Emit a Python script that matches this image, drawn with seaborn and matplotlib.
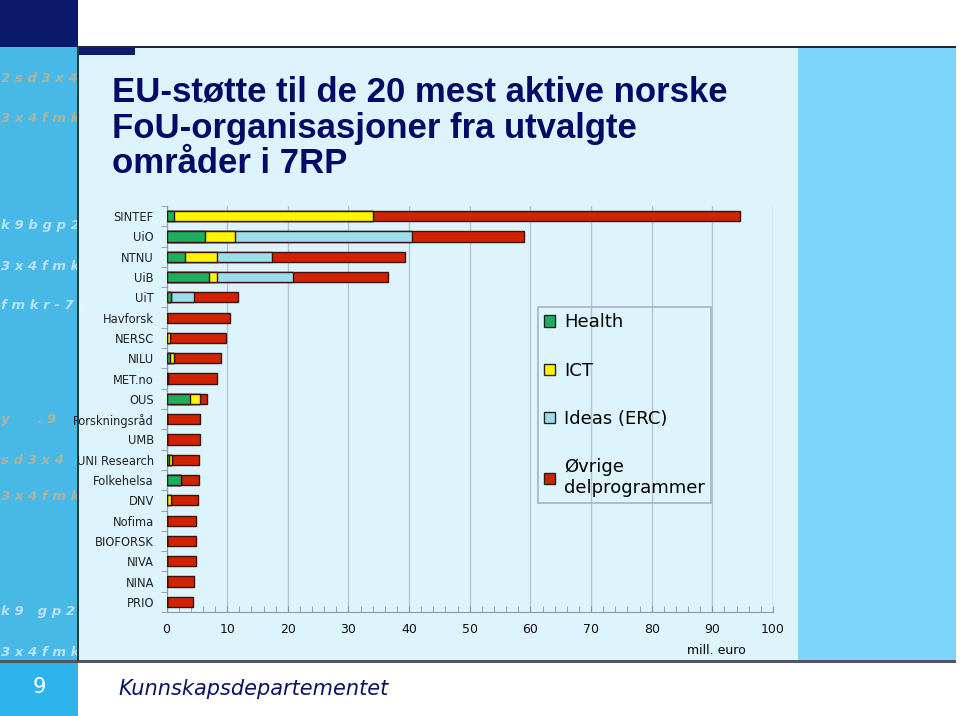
import numpy as np
import pandas as pd
import seaborn as sns
import matplotlib
matplotlib.use('Agg')
import matplotlib.pyplot as plt
from matplotlib.patches import Rectangle, Patch
from matplotlib.ticker import MultipleLocator, FixedLocator

# data (mill. euro)
orgs = ['SINTEF', 'UiO', 'NTNU', 'UiB', 'UiT', 'Havforsk', 'NERSC', 'NILU',
        'MET.no', 'OUS', 'Forskningsråd', 'UMB', 'UNI Research', 'Folkehelsa',
        'DNV', 'Nofima', 'BIOFORSK', 'NIVA', 'NINA', 'PRIO']
health = [1.3, 6.4, 3.0, 7.0, 0.7, 0, 0, 0.5, 0, 3.9,
          0, 0, 0.35, 2.4, 0, 0, 0, 0, 0, 0]
ict = [32.7, 4.9, 5.4, 1.4, 0, 0, 0.6, 0.7, 0.3, 1.7,
       0, 0, 0.55, 0, 0.8, 0, 0, 0, 0, 0]
ideas = [0, 29.1, 9.0, 12.4, 3.9, 0, 0, 0, 0, 0,
         0, 0, 0, 0, 0, 0, 0, 0, 0, 0]
ovrige = [60.5, 18.6, 21.9, 15.8, 7.2, 10.4, 9.2, 7.8, 8.1, 1.0,
          5.6, 5.6, 4.5, 3.0, 4.4, 4.9, 4.8, 4.8, 4.5, 4.3]

series = ['Health', 'ICT', 'Ideas (ERC)', 'Øvrige\ndelprogrammer']
colors = ['#1DAF5F', '#FFF500', '#9CDDEB', '#D02200']

W, H = 960, 716
fig = plt.figure(figsize=(W / 100, H / 100), dpi=100, facecolor='white')


def box(x0, y0, x1, y1, color, z=0):
    # pixel coords, origin top-left
    fig.add_artist(Rectangle((x0 / W, 1 - y1 / H), (x1 - x0) / W, (y1 - y0) / H,
                             transform=fig.transFigure, facecolor=color,
                             edgecolor='none', zorder=z))


# slide background
box(78, 47, 798, 661, '#DDF4FD')
box(798, 47, 956, 661, '#7DD6FA')
box(0, 47, 78, 661, '#48B8E6')
box(0, 0, 78, 47, '#0C1A6B')
box(78, 47, 135, 55, '#0C1A6B')
box(78, 46, 956, 48, '#1A2A3A')
box(0, 660, 956, 663, '#505560')
box(0, 663, 78, 716, '#2DB4EC')

# decorative letters in the left strip
deco = [(78, '2 s d 3 x 4'), (118, '3 x 4 f m k'), (226, 'k 9 b g p 2'),
        (266, '3 x 4 f m k'), (306, 'f m k r - 7 y'), (420, 'y      . 9'),
        (460, 's d 3 x 4'), (497, '3 x 4 f m k'), (612, 'k 9   g p 2'),
        (652, '3 x 4 f m k')]
for yy, s in deco:
    c = '#D8B27C' if yy in (78, 118, 420, 460, 497) else '#E8F4FA'
    fig.text(1 / W, 1 - yy / H, s, fontsize=9.5, fontweight='bold', style='italic',
             color=c, alpha=0.7, va='center', ha='left', zorder=1)
box(77, 47, 79, 661, '#2A3A4A', z=2)

# stacked totals, drawn back to front
df = pd.DataFrame({'org': orgs, 'Health': health, 'ICT': ict,
                   'Ideas': ideas, 'Ovrige': ovrige})
df['c1'] = df['Health']
df['c2'] = df['c1'] + df['ICT']
df['c3'] = df['c2'] + df['Ideas']
df['c4'] = df['c3'] + df['Ovrige']

ax = fig.add_axes([166.5 / W, 104 / H, 606.5 / W, 406 / H])
ax.set_facecolor('none')
ax.set_zorder(2)
for col, c in zip(['c4', 'c3', 'c2', 'c1'], colors[::-1]):
    sns.barplot(data=df, x=col, y='org', color=c, saturation=1, width=0.5,
                edgecolor='#3A1410', linewidth=1, errorbar=None, ax=ax, zorder=3)

ax.set_xlim(0, 100)
ax.set_ylim(len(orgs) - 0.5, -0.5)
ax.xaxis.set_major_locator(MultipleLocator(10))
ax.xaxis.set_minor_locator(MultipleLocator(2))
ax.grid(axis='x', which='major', color='#B8C4CC', linewidth=1, zorder=0)
ax.set_axisbelow(True)
ax.tick_params(axis='x', which='both', direction='in', length=4, color='#8A9AA4',
               labelsize=9, pad=8, labelcolor='#111111')
ax.yaxis.set_minor_locator(FixedLocator(np.arange(-0.5, len(orgs), 1)))
ax.tick_params(axis='y', which='major', length=0, labelsize=8.3, pad=9,
               labelcolor='#222222')
ax.tick_params(axis='y', which='minor', direction='out', length=4, color='#8A9AA4')
for s in ['top', 'right']:
    ax.spines[s].set_visible(False)
for s in ['left', 'bottom']:
    ax.spines[s].set_color('#8A9AA4')
ax.set_xlabel('')
ax.set_ylabel('')
fig.text(716 / W, 1 - 650 / H, 'mill. euro', fontsize=9, ha='center', va='center')

handles = [Patch(facecolor=c, edgecolor='#222222', label=l) for c, l in zip(colors, series)]
leg = fig.legend(handles=handles, loc='upper left', bbox_to_anchor=(538 / W, 1 - 307 / H),
                 fontsize=13, frameon=True, fancybox=False, labelspacing=1.68,
                 handlelength=0.6, handleheight=0.6, handletextpad=0.5,
                 borderpad=0.35, borderaxespad=0)
leg.get_frame().set_edgecolor('#9AA4AA')
leg.get_frame().set_facecolor('none')
leg.get_frame().set_linewidth(1.2)

# title and footer
fig.text(112 / W, 1 - 76 / H,
         'EU-støtte til de 20 mest aktive norske\nFoU-organisasjoner fra utvalgte\nområder i 7RP',
         fontsize=25, fontweight='bold', color='#060A66', family='Liberation Sans',
         ha='left', va='top', linespacing=1.1)
fig.text(39 / W, 1 - 687 / H, '9', fontsize=15, color='white', ha='center', va='center')
fig.text(118 / W, 1 - 689 / H, 'Kunnskapsdepartementet', fontsize=15, style='italic',
         color='#0C1460', ha='left', va='center')

plt.savefig('out.png', dpi=100, facecolor='white')
